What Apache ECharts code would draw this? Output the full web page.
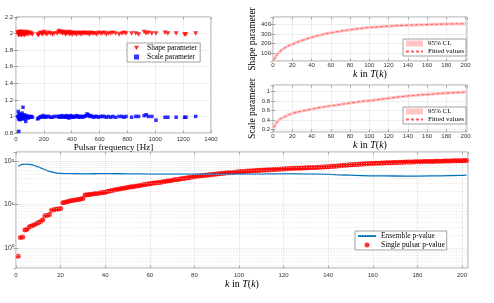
<!DOCTYPE html>
<html><head><meta charset="utf-8">
<script src="https://cdn.jsdelivr.net/npm/echarts@6/dist/echarts.min.js"></script>
<style>html,body{margin:0;padding:0;background:#fff}#c{width:494px;height:303px}</style>
</head><body><div id="c"></div>
<script>
// ---- Top-left: pulsar frequency vs fitted parameters ----
const freqHz = [12,16,18,20,22,24,26,28,30,32,34,36,38,40,42,44,46,48,50,53,56,58,61,64,67,70,74,78,83,88,95,102,110,118,
  155,162,170,180,188,195,203,212,222,235,248,262,275,
  295,305,312,320,328,335,342,348,355,361,367,373,380,386,392,399,405,412,420,428,436,444,452,460,468,477,486,495,
  503,510,518,527,536,546,557,568,580,593,607,620,634,648,663,680,695,
  715,740,760,775,790,830,860,880,920,935,950,975,1005,
  1070,1090,1150,1210,1220,1290];
const shapeParam = [2.01,1.99,2.02,1.98,2.00,2.01,1.99,2.02,2.00,1.99,2.01,2.00,1.98,2.02,2.00,1.99,2.01,2.00,2.02,1.99,2.00,2.01,1.98,2.00,2.01,1.99,2.00,2.02,2.00,1.99,2.01,2.00,2.00,1.99,
  1.99,1.98,2.00,2.01,1.99,2.00,2.02,2.00,1.99,2.01,2.00,1.99,2.00,
  2.00,2.02,2.03,2.01,2.02,2.00,2.01,2.02,1.99,2.00,2.01,2.00,2.02,1.99,2.01,2.00,1.99,2.01,2.00,2.00,1.99,2.01,2.00,2.00,1.99,2.01,2.00,2.00,
  2.01,2.00,2.00,1.99,2.01,2.00,2.00,2.00,1.99,2.01,2.00,2.00,2.01,1.99,2.00,2.00,2.01,
  2.00,1.99,2.00,2.01,2.00,2.00,2.00,1.99,2.02,2.00,2.01,2.00,2.00,
  2.01,2.00,2.00,1.99,1.99,2.00];
const scaleParam = [1.00,1.06,0.97,0.82,1.02,0.98,1.03,0.96,1.01,0.99,0.97,1.02,1.00,0.98,1.01,1.04,0.99,0.97,1.11,1.00,0.98,1.02,0.99,1.00,0.97,0.94,1.01,0.99,1.00,0.98,1.00,0.99,1.00,0.99,
  0.97,0.98,0.99,1.00,0.99,1.01,1.00,0.99,1.00,1.00,0.99,0.99,1.00,
  1.00,1.00,0.99,1.00,1.01,0.99,1.00,1.00,0.99,1.01,0.99,1.00,0.98,1.00,1.01,0.99,1.00,1.00,0.99,1.00,1.01,1.00,0.99,1.00,1.00,0.99,1.00,1.00,
  1.01,1.03,1.02,1.00,1.01,1.00,0.99,1.00,1.00,0.99,1.00,1.00,1.00,0.99,1.00,0.99,1.00,
  0.99,1.00,1.00,0.99,1.00,0.99,1.00,1.00,1.01,1.02,1.00,1.00,0.955,
  0.99,0.99,0.99,0.99,0.99,1.00];

// ---- Top-right: fitted shape / scale vs k ----
const shapeK = [1,2,3,4,6,8,10,15,20,30,40,50,60,70,80,90,100,120,140,160,180,200];
const shapeFit = [30,50,68,82,105,125,142,172,192,232,264,290,311,328,343,356,366,380,390,397,402,405];
const scaleK = [1,2,3,5,8,10,15,20,30,40,50,60,70,80,90,100,120,140,160,180,200];
const scaleFit = [0.24,0.29,0.33,0.38,0.43,0.45,0.50,0.54,0.59,0.63,0.67,0.70,0.73,0.76,0.79,0.81,0.86,0.91,0.94,0.97,0.99];

// ---- Bottom: p-values vs k ----
const ensembleK = [1,2,3,4,5,6,8,10,12,14,16,18,20,25,30,40,50,60,70,80,90,100,110,120,130,140,145,150,155,160,170,180,190,200,202];
const ensembleP = [76,80,83,84,84,83,79,73,66,60,56,53,51.5,51,50.5,51,50.5,50,49.5,49.5,49.5,49.5,50,50.5,50,49,48,47,46,45.5,45,44.8,45.5,46.8,47];
const singleP = [
  0.65,1.75,1.8,2.6,2.7,3.1,3.2,3.4,3.6,3.8,
  4.1,4.5,5.5,5.6,5.9,7.4,7.6,7.8,7.9,8.1,
  11,11.2,11.5,12,12.3,12.6,12.9,13.1,13.4,13.8,
  16.5,16.8,17,17.3,17.6,17.9,18.2,18.5,18.8,19.2,
  19.8,20.4,21,21.5,22,22.5,23,23.5,24,24.6,
  25.2,25.6,26,26.5,27,27.6,28.2,28.8,29.4,30,
  30.6,31,31.5,32,32.6,33.2,33.8,34.5,35.2,36,
  36.8,37.5,38.2,39,39.6,40.2,41,41.8,42.6,43.4,
  44.2,45,45.7,46.4,47,47.6,48.3,49,49.6,50.2,
  50.8,51.4,52,52.6,53.2,53.8,54.4,55,55.6,56.2,
  56.8,57.3,57.8,58.3,58.8,59.3,59.8,60.3,60.8,61.3,
  61.8,62.2,62.6,63,63.4,63.8,64.2,64.6,65,65.4,
  65.8,66.2,66.6,67,67.4,67.8,68.2,68.6,69,69.4,
  69.8,70.2,70.6,71,71.4,71.8,72.2,72.6,73,73.5,
  74.2,75,75.8,76.6,77.4,78.2,79,79.8,80.6,81.4,
  82,82.6,83.2,83.8,84.4,85,85.6,86.2,86.8,87.4,
  87.9,88.4,88.9,89.4,89.9,90.3,90.7,91.1,91.5,91.9,
  92.3,92.7,93.1,93.5,93.9,94.2,94.5,94.8,95.1,95.4,
  95.7,96,96.3,96.6,96.9,97.2,97.5,97.8,98.1,98.4,
  98.7,99,99.3,99.6,99.9,100.2,100.5,100.8,101.1,101.4,
  101.7,102];
const minorLogTicks = [0.4,0.5,0.6,0.7,0.8,0.9,2,3,4,5,6,7,8,9,20,30,40,50,60,70,80,90];

const SERIF = 'Liberation Serif';
const SANS = 'Liberation Sans';
const BORDER = '#8a8a8a';
const GRIDC = '#e6e6e6';
const TRI_DOWN = 'path://M0,0L10,0L5,9Z';
const kName = '{i|k} in {i|T}({i|k})';
const kNameStyle = (fs) => ({fontFamily: SERIF, fontSize: fs, color: '#000',
  rich: {i: {fontFamily: SERIF, fontSize: fs, fontStyle: 'italic', color: '#000'}}});

function baseAxis(extra) {
  return Object.assign({
    axisLine: {show: false},
    axisTick: {show: true, inside: true, length: 2.5, lineStyle: {color: BORDER, width: 0.7}},
    axisLabel: {fontFamily: SANS, fontSize: 6, color: '#333', margin: 2},
    splitLine: {show: true, lineStyle: {color: GRIDC, width: 0.7}}
  }, extra);
}
function mirror(ax, pos) {
  const m = JSON.parse(JSON.stringify(ax));
  m.position = pos; delete m.name;
  m.axisLabel = {show: false}; m.splitLine = {show: false};
  return m;
}
const supMap = {'-1': '⁻¹', '0': '⁰', '1': '¹', '2': '²', '3': '³'};

const xAxes = [
  baseAxis({gridIndex: 0, type: 'value', min: 0, max: 1400, interval: 200,
    name: 'Pulsar frequency [Hz]', nameLocation: 'middle', nameGap: 10,
    nameTextStyle: {fontFamily: SERIF, fontSize: 9, color: '#000'}}),
  baseAxis({gridIndex: 1, type: 'value', min: 0, max: 201.5, interval: 20,
    name: kName, nameLocation: 'middle', nameGap: 6, nameTextStyle: kNameStyle(10)}),
  baseAxis({gridIndex: 2, type: 'value', min: 0, max: 201.5, interval: 20,
    name: kName, nameLocation: 'middle', nameGap: 5, nameTextStyle: kNameStyle(10)}),
  baseAxis({gridIndex: 3, type: 'value', min: 0, max: 202.7, interval: 20,
    name: kName, nameLocation: 'middle', nameGap: 10, nameTextStyle: kNameStyle(10)})
];
xAxes[0].axisLabel = Object.assign({}, xAxes[0].axisLabel, {margin: 3, formatter: v => String(v)});
xAxes[1].axisLabel = Object.assign({}, xAxes[1].axisLabel, {margin: 1, showMaxLabel: false});
xAxes[2].axisLabel = Object.assign({}, xAxes[2].axisLabel, {margin: 1, showMaxLabel: false});
xAxes[3].axisLabel = Object.assign({}, xAxes[3].axisLabel, {margin: 4, showMaxLabel: false});

const yAxes = [
  baseAxis({gridIndex: 0, type: 'value', min: 0.8, max: 2.2, interval: 0.2}),
  baseAxis({gridIndex: 1, type: 'value', min: 20, max: 475, minInterval: 100, maxInterval: 100,
    name: 'Shape parameter', nameLocation: 'middle', nameRotate: 90, nameGap: 14,
    nameTextStyle: {fontFamily: SERIF, fontSize: 9.5, color: '#000'}}),
  baseAxis({gridIndex: 2, type: 'value', min: 0.15, max: 1.14, minInterval: 0.2, maxInterval: 0.2,
    name: 'Scale parameter', nameLocation: 'middle', nameRotate: 90, nameGap: 13,
    nameTextStyle: {fontFamily: SERIF, fontSize: 9.5, color: '#000'}}),
  baseAxis({gridIndex: 3, type: 'log', logBase: 10, min: 0.35, max: 160})
];
yAxes[0].axisLabel = Object.assign({}, yAxes[0].axisLabel, {margin: 3, formatter: v => String(+v.toFixed(1))});
yAxes[1].axisLabel = Object.assign({}, yAxes[1].axisLabel, {margin: 2, showMinLabel: false, showMaxLabel: false});
yAxes[2].axisLabel = Object.assign({}, yAxes[2].axisLabel, {margin: 3, showMinLabel: false, showMaxLabel: false,
  formatter: v => String(+v.toFixed(1))});
yAxes[3].axisLabel = Object.assign({}, yAxes[3].axisLabel, {margin: 2, showMinLabel: false, showMaxLabel: false, fontSize: 7,
  formatter: v => '10' + (supMap[String(Math.round(Math.log10(v)))] || '')});

const xAll = xAxes.concat(xAxes.map(a => mirror(a, 'top')));
const yAll = yAxes.concat(yAxes.map(a => mirror(a, 'right')));

const gridBase = {show: true, borderColor: BORDER, borderWidth: 0.8, backgroundColor: '#fff', containLabel: false, outerBoundsMode: 'none'};
const grids = [
  Object.assign({left: 16, top: 17, width: 195, height: 116}, gridBase),
  Object.assign({left: 273, top: 17, width: 194, height: 44}, gridBase),
  Object.assign({left: 273, top: 85, width: 194, height: 47}, gridBase),
  Object.assign({left: 16, top: 152, width: 452, height: 116}, gridBase)
];

const noSym = {opacity: 0};
const legendBase = {orient: 'vertical', backgroundColor: '#fff', borderColor: BORDER, borderWidth: 0.8,
  borderRadius: 0, selectedMode: false, itemGap: 1,
  textStyle: {fontFamily: SERIF, fontSize: 7.5, color: '#000'}};
const legends = [
  Object.assign({}, legendBase, {left: 127, top: 43, padding: [1, 3, 1, 7], itemWidth: 5, itemHeight: 5,
    textStyle: {fontFamily: SERIF, fontSize: 7.5, color: '#000', padding: [0, 0, 0, 3]},
    data: [{name: 'Shape parameter', icon: TRI_DOWN}, 'Scale parameter']}),
  Object.assign({}, legendBase, {left: 403, top: 39, padding: [1, 2, 1, 2], itemWidth: 17, itemHeight: 6,
    textStyle: {fontFamily: SERIF, fontSize: 7, color: '#000'},
    data: [{name: '95% CL', icon: 'rect', itemStyle: {color: '#ffc4c4'}}, {name: 'Fitted values', itemStyle: noSym}]}),
  Object.assign({}, legendBase, {left: 403, top: 107, padding: [1, 2, 1, 2], itemWidth: 17, itemHeight: 6,
    textStyle: {fontFamily: SERIF, fontSize: 7, color: '#000'},
    data: [{name: '95% CL', icon: 'rect', itemStyle: {color: '#ffc4c4'}}, {name: 'Fitted values', itemStyle: noSym}]}),
  Object.assign({}, legendBase, {left: 355, top: 231, padding: [1, 2, 1, 2], itemWidth: 18, itemHeight: 5,
    data: [{name: 'Ensemble p-value', itemStyle: noSym}, 'Single pulsar p-value']})
];

const pairs = (xs, ys) => xs.map((x, i) => [x, ys[i]]);
const series = [
  {type: 'scatter', name: 'Shape parameter', xAxisIndex: 0, yAxisIndex: 0, data: pairs(freqHz, shapeParam),
   symbol: TRI_DOWN, symbolSize: [5, 4.5], itemStyle: {color: '#ff0000'}},
  {type: 'scatter', name: 'Scale parameter', xAxisIndex: 0, yAxisIndex: 0, data: pairs(freqHz, scaleParam),
   symbol: 'rect', symbolSize: 3.5, itemStyle: {color: '#0000ff'}},
  {type: 'line', name: '95% CL', xAxisIndex: 1, yAxisIndex: 1, data: pairs(shapeK, shapeFit), smooth: true,
   symbol: 'none', color: '#ffc4c4', lineStyle: {color: '#ffc4c4', width: 3}},
  {type: 'line', name: 'Fitted values', xAxisIndex: 1, yAxisIndex: 1, data: pairs(shapeK, shapeFit), smooth: true,
   symbol: 'none', color: '#ff5a5a', lineStyle: {color: '#ff5a5a', width: 1, type: [3, 2]}},
  {type: 'line', name: '95% CL', xAxisIndex: 2, yAxisIndex: 2, data: pairs(scaleK, scaleFit), smooth: true,
   symbol: 'none', color: '#ffc4c4', lineStyle: {color: '#ffc4c4', width: 3}},
  {type: 'line', name: 'Fitted values', xAxisIndex: 2, yAxisIndex: 2, data: pairs(scaleK, scaleFit), smooth: true,
   symbol: 'none', color: '#ff5a5a', lineStyle: {color: '#ff5a5a', width: 1, type: [3, 2]}},
  {type: 'line', name: 'Ensemble p-value', xAxisIndex: 3, yAxisIndex: 3, data: pairs(ensembleK, ensembleP), smooth: true,
   symbol: 'none', color: '#0072BD', lineStyle: {color: '#0072BD', width: 1.3},
   markLine: {silent: true, symbol: 'none', label: {show: false}, animation: false,
     lineStyle: {color: '#d9d9d9', width: 0.6, type: [1, 1.5]},
     data: minorLogTicks.map(v => ({yAxis: v}))}},
  {type: 'scatter', name: 'Single pulsar p-value', xAxisIndex: 3, yAxisIndex: 3,
   data: singleP.map((v, i) => [i + 1, v]), symbol: 'circle', symbolSize: 5, itemStyle: {color: '#ff0000'}}
];

const chart = echarts.init(document.getElementById('c'), null, {renderer: 'canvas'});
chart.setOption({animation: false, grid: grids, xAxis: xAll, yAxis: yAll, legend: legends, series: series});
</script>
</body></html>
